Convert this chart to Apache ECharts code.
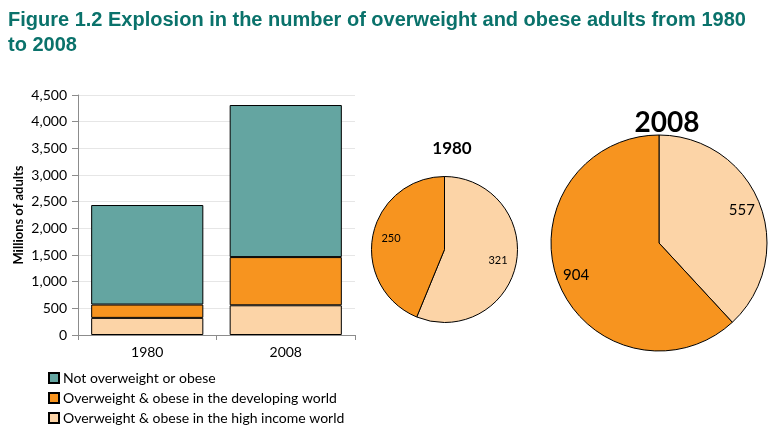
<!DOCTYPE html>
<html><head><meta charset="utf-8">
<script src="https://cdn.jsdelivr.net/npm/echarts@6/dist/echarts.min.js"></script>
<style>html,body{margin:0;padding:0;background:#fff}#c{width:782px;height:441px}</style>
</head><body><div id="c"></div>
<script>
const categories = ['1980', '2008'];
const seriesNames = ['Not overweight or obese', 'Overweight & obese in the developing world', 'Overweight & obese in the high income world'];
const highIncome = [321, 557];
const developing = [250, 904];
const notOverweight = [1866, 2851];
const yTicks = [0, 500, 1000, 1500, 2000, 2500, 3000, 3500, 4000, 4500];

const colTeal = '#64a5a1', colOrange = '#f7941f', colPeach = '#fcd4a7';
const font = 'Lato';
const fmt = v => String(v).replace(/\B(?=(\d{3})+(?!\d))/g, ',');

function pieData(i) {
  return [
    { name: seriesNames[2], value: highIncome[i], itemStyle: { color: colPeach } },
    { name: seriesNames[1], value: developing[i], itemStyle: { color: colOrange } }
  ];
}
function pieSeries(i, center, r, r0Label, fs) {
  return [{
    type: 'pie', center: center, radius: [0, r], startAngle: 90, clockwise: true,
    data: pieData(i), label: { show: false }, labelLine: { show: false },
    itemStyle: { borderColor: '#000', borderWidth: 1 }, silent: true, animation: false,
    emphasis: { disabled: true }
  }, {
    type: 'pie', center: center, radius: [r0Label, r], startAngle: 90, clockwise: true,
    data: pieData(i).map(d => ({ name: d.name, value: d.value, itemStyle: { color: 'rgba(0,0,0,0)' } })),
    label: { show: true, position: 'inside', formatter: '{c}', color: '#000', fontSize: fs, fontFamily: font },
    labelLine: { show: false }, itemStyle: { borderWidth: 0 }, silent: true, animation: false,
    emphasis: { disabled: true }
  }];
}

const chart = echarts.init(document.getElementById('c'));
chart.setOption({
  animation: false,
  title: [
    { text: 'Figure 1.2 Explosion in the number of overweight and obese adults from 1980\nto 2008',
      left: 3, top: 3, textStyle: { fontFamily: 'Liberation Sans', fontWeight: 'bold', fontSize: 20, color: '#0a726b', lineHeight: 25 } },
    { text: '1980', left: 447, top: 135, textAlign: 'center', textStyle: { fontFamily: font, fontWeight: 'bold', fontSize: 17, color: '#000' } },
    { text: '2008', left: 662, top: 104, textAlign: 'center', textStyle: { fontFamily: font, fontWeight: 'bold', fontSize: 28, color: '#000' } }
  ],
  legend: {
    data: seriesNames, orient: 'vertical', left: 48, top: 371, padding: 0, itemWidth: 10, itemHeight: 10, itemGap: 6,
    textStyle: { fontFamily: font, fontSize: 14, color: '#000', padding: [0, 0, 0, -1] }, icon: 'rect'
  },
  grid: { left: 78, right: 427, top: 95, bottom: 106 },
  xAxis: {
    type: 'category', data: categories,
    axisLine: { lineStyle: { color: '#8c8c8c' } },
    axisTick: { show: true, length: 5, lineStyle: { color: '#8c8c8c' } },
    axisLabel: { fontFamily: font, fontSize: 14, color: '#000', margin: 10 }
  },
  yAxis: {
    type: 'value', min: 0, max: 4500, interval: 500,
    name: 'Millions of adults', nameLocation: 'middle', nameGap: 53, nameRotate: 90,
    nameTextStyle: { fontFamily: font, fontWeight: 'bold', fontSize: 13, color: '#000' },
    axisLine: { show: true, lineStyle: { color: '#8c8c8c' } },
    axisTick: { show: true, length: 6, lineStyle: { color: '#8c8c8c' } },
    axisLabel: { fontFamily: font, fontSize: 14, color: '#000', margin: 11, formatter: v => yTicks.includes(v) ? fmt(v) : '' },
    splitLine: { lineStyle: { color: '#e6e6e6' } }
  },
  series: [
    { name: seriesNames[2], type: 'bar', stack: 's', data: highIncome, barWidth: '81%', itemStyle: { color: colPeach, borderColor: '#000', borderWidth: 1 } },
    { name: seriesNames[1], type: 'bar', stack: 's', data: developing, barWidth: '81%', itemStyle: { color: colOrange, borderColor: '#000', borderWidth: 1 } },
    { name: seriesNames[0], type: 'bar', stack: 's', data: notOverweight, barWidth: '81%', itemStyle: { color: colTeal, borderColor: '#000', borderWidth: 1 } },
    ...pieSeries(0, [444.5, 249.5], 73, 30, 11),
    ...pieSeries(1, [659, 243], 108, 64, 15)
  ]
});
</script></body></html>
